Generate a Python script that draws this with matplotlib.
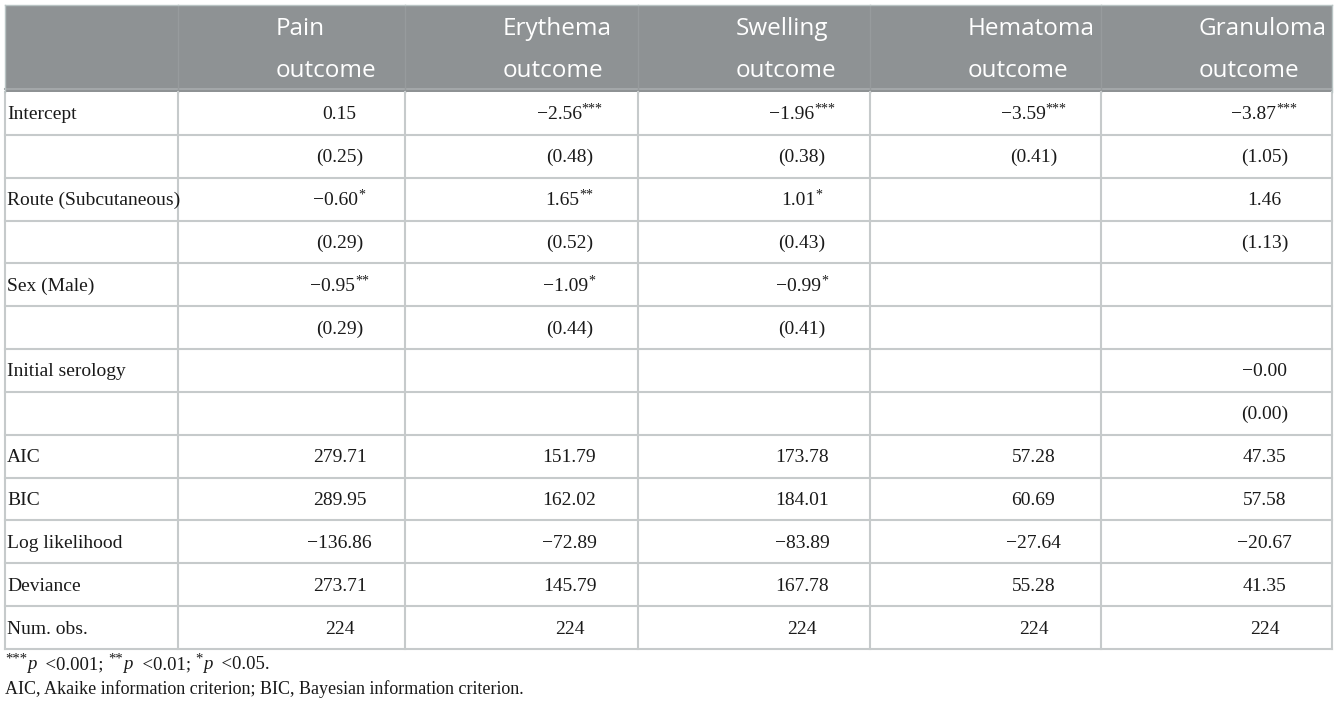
import matplotlib
matplotlib.use("Agg")
import matplotlib.pyplot as plt

# ---------------- data ----------------
header_top = ["Pain", "Erythema", "Swelling", "Hematoma", "Granuloma"]
header_bottom = ["outcome", "outcome", "outcome", "outcome", "outcome"]

row_labels = ["Intercept", "", "Route (Subcutaneous)", "", "Sex (Male)", "",
              "Initial serology", "", "AIC", "BIC", "Log likelihood",
              "Deviance", "Num. obs."]

pain = ["0.15", "(0.25)", "−0.60*", "(0.29)", "−0.95**", "(0.29)", "", "",
        "279.71", "289.95", "−136.86", "273.71", "224"]
erythema = ["−2.56***", "(0.48)", "1.65**", "(0.52)", "−1.09*", "(0.44)", "", "",
            "151.79", "162.02", "−72.89", "145.79", "224"]
swelling = ["−1.96***", "(0.38)", "1.01*", "(0.43)", "−0.99*", "(0.41)", "", "",
            "173.78", "184.01", "−83.89", "167.78", "224"]
hematoma = ["−3.59***", "(0.41)", "", "", "", "", "", "",
            "57.28", "60.69", "−27.64", "55.28", "224"]
granuloma = ["−3.87***", "(1.05)", "1.46", "(1.13)", "", "", "−0.00", "(0.00)",
             "47.35", "57.58", "−20.67", "41.35", "224"]
columns = [pain, erythema, swelling, hematoma, granuloma]

# footnote segments: (text, style) with style in {'n', 'sup', 'it'}
footnote1 = [("***", "sup"), ("p", "it"), ("  <0.001; ", "n"),
             ("**", "sup"), ("p", "it"), ("  <0.01; ", "n"),
             ("*", "sup"), ("p", "it"), ("  <0.05.", "n")]
footnote2 = "AIC, Akaike information criterion; BIC, Bayesian information criterion."

# ---------------- layout ----------------
W, H = 1337, 706
fig = plt.figure(figsize=(W / 100, H / 100), dpi=100)
ax = fig.add_axes([0, 0, 1, 1])
ax.set_xlim(0, W)
ax.set_ylim(H, 0)
ax.axis('off')
renderer = fig.canvas.get_renderer()

col_edges = [5, 178, 405, 638, 870, 1101, 1332]
head_top, head_bot = 5, 92
row_h = (649 - head_bot) / len(row_labels)

HEAD_COLOR = '#8e9294'
LINE_COLOR = '#c6cacb'
TXT = '#1a1a1a'
serif = 'Liberation Serif'
sans = 'Open Sans'
FS = 14
SUP_FS = 10

# header band
ax.add_patch(plt.Rectangle((col_edges[0], head_top), col_edges[-1] - col_edges[0],
                           head_bot - head_top, facecolor=HEAD_COLOR, edgecolor='none'))
ax.plot([col_edges[0], col_edges[-1]], [head_bot - 3, head_bot - 3], color='#a3a7a9', lw=1.5)
for x in col_edges[1:-1]:
    ax.plot([x, x], [head_top, head_bot], color='#979b9d', lw=1.0)

for i, (t, b) in enumerate(zip(header_top, header_bottom)):
    xl = col_edges[i + 1] + 98
    ax.text(xl, 35, t, ha='left', va='baseline', fontsize=17.5, family=sans, color='white')
    ax.text(xl, 77, b, ha='left', va='baseline', fontsize=17.5, family=sans, color='white')


def draw_segments(x, y, segs, fs=FS, sup_fs=SUP_FS, align='left'):
    """Draw a run of text segments on a common baseline y."""
    arts = []
    for txt, style in segs:
        kw = dict(family=serif, color=TXT, va='baseline', ha='left')
        if style == 'sup':
            a = ax.text(0, y - 6.5, txt, fontsize=sup_fs, **kw)
        elif style == 'it':
            a = ax.text(0, y, txt, fontsize=fs, style='italic', **kw)
        else:
            a = ax.text(0, y, txt, fontsize=fs, **kw)
        arts.append(a)
    widths = [a.get_window_extent(renderer).width for a in arts]
    total = sum(widths)
    cx = x - total / 2 if align == 'center' else x
    for a, w in zip(arts, widths):
        a.set_x(cx)
        cx += w


def split_stars(s):
    base = s.rstrip('*')
    stars = s[len(base):]
    segs = [(base, 'n')]
    if stars:
        segs.append((stars, 'sup'))
    return segs


# grid lines
ys = [head_bot + k * row_h for k in range(len(row_labels) + 1)]
for y in ys[1:]:
    ax.plot([col_edges[0], col_edges[-1]], [y, y], color=LINE_COLOR, lw=1.5)
for x in col_edges:
    ax.plot([x, x], [head_bot, ys[-1]], color=LINE_COLOR, lw=1.5)
ax.plot([col_edges[0], col_edges[-1]], [head_top, head_top], color='#b9c4c4', lw=1.0)
for x in (col_edges[0], col_edges[-1]):
    ax.plot([x, x], [head_top, head_bot], color='#b9c4c4', lw=1.0)

# body
for r, lab in enumerate(row_labels):
    yb = head_bot + (r + 0.5) * row_h + 6
    if lab:
        ax.text(col_edges[0] + 2, yb, lab, ha='left', va='baseline', fontsize=FS,
                family=serif, color=TXT)
    for c, col in enumerate(columns):
        v = col[r]
        if v:
            xc = (col_edges[c + 1] + col_edges[c + 2]) / 2 + 48
            draw_segments(xc, yb, split_stars(v), align='center')

draw_segments(col_edges[0], 669, footnote1, fs=13.5, sup_fs=10.5)
ax.text(col_edges[0], 694, footnote2, ha='left', va='baseline', fontsize=13,
        family=serif, color=TXT)

fig.savefig('out.png', dpi=100, facecolor='white')
